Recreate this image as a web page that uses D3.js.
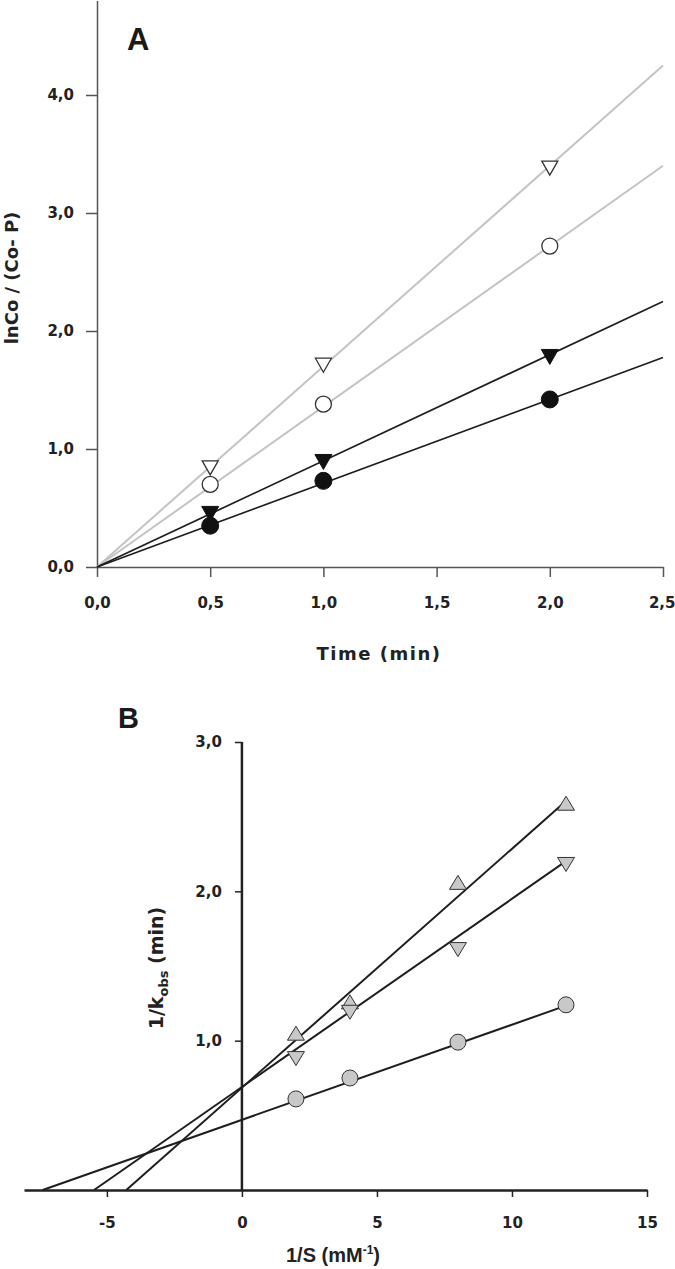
<!DOCTYPE html>
<html>
<head>
<meta charset="utf-8">
<script src="https://cdn.jsdelivr.net/npm/d3@7"></script>
<style>
  html, body { margin: 0; padding: 0; background: #fff; }
  svg { display: block; }
</style>
</head>
<body>
<svg id="chart" width="675" height="1269"></svg>
<script>
// ---------- Panel A data ----------
const timeA = [0.5, 1.0, 2.0];
const openTriA = [0.84, 1.71, 3.38];
const openCircA = [0.70, 1.38, 2.72];
const filledTriA = [0.45, 0.89, 1.78];
const filledCircA = [0.35, 0.73, 1.42];
const slopesA = [1.70, 1.36, 0.90, 0.71];        // fitted lines through origin
const lineColorsA = ["#c4c4c4", "#c4c4c4", "#1e1e1e", "#1e1e1e"];
const xTicksA = [0, 0.5, 1.0, 1.5, 2.0, 2.5];
const yTicksA = [0, 1, 2, 3, 4];

// ---------- Panel B data ----------
const invS = [2, 4, 8, 12];
const triUpB = [1.05, 1.26, 2.06, 2.59];
const triDownB = [0.88, 1.19, 1.61, 2.18];
const circB = [0.61, 0.75, 0.99, 1.24];
const slopesB = [0.160, 0.126, 0.0637];
const interceptsB = [0.685, 0.69, 0.47];
const xTicksB = [-5, 0, 5, 10, 15];
const yTicksB = [1, 2, 3];

const fmt = d => d3.format(".1f")(d).replace(".", ",");
const fmtInt = d => String(d);
const svg = d3.select("#chart");

function styleTickText(g) {
  g.selectAll(".tick text")
    .attr("font-family", "DejaVu Sans, Verdana, sans-serif")
    .attr("font-weight", "bold")
    .attr("font-size", 15)
    .attr("fill", "#222");
}

// ================= PANEL A =================
const xA = d3.scaleLinear().domain([0, 2.5]).range([97, 663]);
const yA = d3.scaleLinear().domain([0, 4.8]).range([567, 0.6]);

const gxA = svg.append("g").attr("transform", `translate(0,${yA(0)})`)
  .call(d3.axisBottom(xA).tickValues(xTicksA).tickFormat(fmt).tickSize(10).tickSizeOuter(0).tickPadding(20));
const gyA = svg.append("g").attr("transform", `translate(${xA(0)},0)`)
  .call(d3.axisLeft(yA).tickValues(yTicksA).tickFormat(fmt).tickSize(11).tickSizeOuter(0).tickPadding(12));
[gxA, gyA].forEach(g => {
  g.select(".domain").attr("stroke", "#555").attr("stroke-width", 1.5);
  g.selectAll(".tick line").attr("stroke", "#555").attr("stroke-width", 1.5);
  styleTickText(g);
});
// keep the last x label inside the picture
gxA.selectAll(".tick text").filter(d => d === 2.5).attr("text-anchor", "end").attr("x", 12);

// fit lines
const lineA = d3.line().x(d => xA(d[0])).y(d => yA(d[1]));
slopesA.forEach((s, i) => {
  svg.append("path")
    .attr("d", lineA([[0, 0], [2.5, s * 2.5]]))
    .attr("fill", "none")
    .attr("stroke", lineColorsA[i])
    .attr("stroke-width", i < 2 ? 2 : 1.7);
});

function drawTri(g, cx, cy, w, h, up, fill, stroke, sw) {
  const hw = w / 2, hh = h / 2;
  const pts = up
    ? [[cx, cy - hh], [cx + hw, cy + hh], [cx - hw, cy + hh]]
    : [[cx - hw, cy - hh], [cx + hw, cy - hh], [cx, cy + hh]];
  g.append("path")
    .attr("d", "M" + pts.map(p => p.join(",")).join("L") + "Z")
    .attr("fill", fill).attr("stroke", stroke).attr("stroke-width", sw)
    .attr("stroke-linejoin", "miter");
}

const mA = svg.append("g");
timeA.forEach((t, i) => {
  drawTri(mA, xA(t), yA(openTriA[i]), 16, 14, false, "#fff", "#333", 1.3);
  mA.append("circle").attr("cx", xA(t)).attr("cy", yA(openCircA[i])).attr("r", 8)
    .attr("fill", "#fff").attr("stroke", "#333").attr("stroke-width", 1.3);
  drawTri(mA, xA(t), yA(filledTriA[i]), 17, 15, false, "#111", "#111", 1);
  mA.append("circle").attr("cx", xA(t)).attr("cy", yA(filledCircA[i])).attr("r", 8.5)
    .attr("fill", "#111").attr("stroke", "#111").attr("stroke-width", 1);
});

svg.append("text").attr("x", 127).attr("y", 50)
  .attr("font-family", "Liberation Sans, Arial, sans-serif").attr("font-weight", "bold")
  .attr("font-size", 31).attr("fill", "#1a1a1a").text("A");

svg.append("text").attr("x", 379).attr("y", 660).attr("text-anchor", "middle")
  .attr("font-family", "DejaVu Sans, Verdana, sans-serif").attr("font-weight", "bold")
  .attr("font-size", 18).attr("letter-spacing", 1.5).attr("fill", "#222").text("Time (min)");

svg.append("text").attr("transform", "translate(18,278) rotate(-90)").attr("text-anchor", "middle")
  .attr("font-family", "DejaVu Sans, Verdana, sans-serif").attr("font-weight", "bold")
  .attr("font-size", 18).attr("fill", "#222").text("lnCo / (Co- P)");

// ================= PANEL B =================
const xB = d3.scaleLinear().domain([-8.07, 15]).range([24, 647]);
const yB = d3.scaleLinear().domain([0, 3]).range([1190, 742]);

const gxB = svg.append("g").attr("transform", `translate(0,${yB(0)})`)
  .call(d3.axisBottom(xB).tickValues(xTicksB).tickFormat(fmtInt).tickSize(7).tickSizeOuter(0).tickPadding(20));
const gyB = svg.append("g").attr("transform", `translate(${xB(0)},0)`)
  .call(d3.axisLeft(yB).tickValues(yTicksB).tickFormat(fmt).tickSize(7).tickSizeOuter(0).tickPadding(13));
gyB.select(".domain").remove();
svg.append("line").attr("x1", xB(0)).attr("x2", xB(0)).attr("y1", yB(3)).attr("y2", yB(0))
  .attr("stroke", "#222").attr("stroke-width", 2.5);
gxB.select(".domain").attr("stroke", "#222").attr("stroke-width", 2.5);
[gxB, gyB].forEach(g => {
  g.selectAll(".tick line").attr("stroke", "#222").attr("stroke-width", 1.5);
  styleTickText(g);
});

const lineB = d3.line().x(d => xB(d[0])).y(d => yB(d[1]));
slopesB.forEach((s, i) => {
  const x0 = -interceptsB[i] / s;
  svg.append("path")
    .attr("d", lineB([[x0, 0], [12, interceptsB[i] + s * 12]]))
    .attr("fill", "none").attr("stroke", "#1e1e1e").attr("stroke-width", 2);
});

const mB = svg.append("g");
invS.forEach((x, i) => {
  drawTri(mB, xB(x), yB(triUpB[i]), 17, 14, true, "#c8c8c8", "#333", 1);
  drawTri(mB, xB(x), yB(triDownB[i]), 17, 14, false, "#c8c8c8", "#333", 1);
  mB.append("circle").attr("cx", xB(x)).attr("cy", yB(circB[i])).attr("r", 8)
    .attr("fill", "#c8c8c8").attr("stroke", "#333").attr("stroke-width", 1);
});

svg.append("text").attr("x", 118).attr("y", 728)
  .attr("font-family", "Liberation Sans, Arial, sans-serif").attr("font-weight", "bold")
  .attr("font-size", 29).attr("fill", "#1a1a1a").text("B");

const xl = svg.append("text").attr("x", 333).attr("y", 1262).attr("text-anchor", "middle")
  .attr("font-family", "Liberation Sans, Arial, sans-serif").attr("font-weight", "bold")
  .attr("font-size", 20).attr("fill", "#222");
xl.append("tspan").text("1/S (mM");
xl.append("tspan").attr("font-size", 12).attr("dy", -8).text("-1");
xl.append("tspan").attr("dy", 8).text(")");

const yl = svg.append("text").attr("transform", "translate(163,968) rotate(-90)").attr("text-anchor", "middle")
  .attr("font-family", "DejaVu Sans, Verdana, sans-serif").attr("font-weight", "bold")
  .attr("font-size", 19).attr("fill", "#222");
yl.append("tspan").text("1/k");
yl.append("tspan").attr("font-size", 13).attr("dy", 5).text("obs");
yl.append("tspan").attr("dy", -5).text(" (min)");
</script>
</body>
</html>
